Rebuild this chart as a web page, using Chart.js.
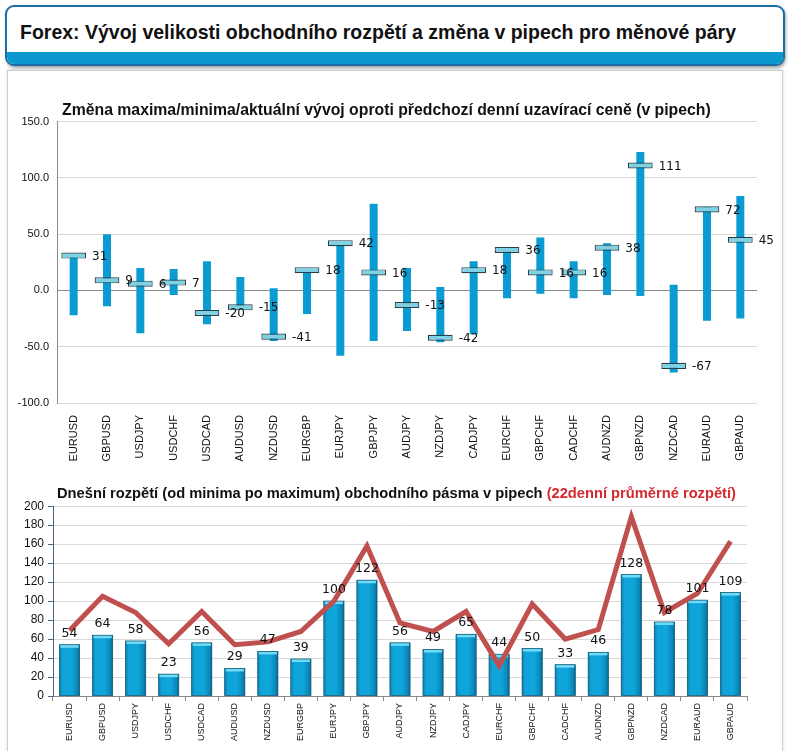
<!DOCTYPE html>
<html>
<head>
<meta charset="utf-8">
<script src="https://cdn.jsdelivr.net/npm/chart.js@4.4.1/dist/chart.umd.min.js"></script>
<style>
  html, body { margin:0; padding:0; background:#fff; }
  #page { position:relative; width:791px; height:751px; overflow:hidden; background:#fff; font-family:"Liberation Sans", Arial, sans-serif; }
  #header { position:absolute; left:5px; top:5px; width:776px; height:57px; border:2px solid #1c6ea4; border-radius:9px; overflow:hidden; background:#fff; box-shadow:1px 2px 3px rgba(0,0,0,0.35); }
  #header .band { position:absolute; left:0; right:0; bottom:0; height:12px; background:#0a98cf; }
  #header .txt { position:absolute; left:13px; top:13px; font-family:"Liberation Sans", Arial, sans-serif; font-weight:bold; font-size:21px; color:#111; white-space:nowrap; transform-origin:0 0; }
  #panel { position:absolute; left:7px; top:70px; width:774px; height:700px; border:1px solid #cfcfcf; box-shadow:0 -1px 3px rgba(0,0,0,0.12); background:#fff; }
  .ctitle { position:absolute; font-family:"Liberation Sans", Arial, sans-serif; font-weight:bold; color:#111; white-space:nowrap; }
  .ctitle .red { color:#d42a2e; }
  canvas { position:absolute; }
  #wrap1 { position:absolute; left:0; top:107px; width:791px; height:363px; }
  #wrap2 { position:absolute; left:0; top:495px; width:791px; height:256px; }
</style>
</head>
<body>
<div id="page">
  <div id="header"><div class="txt" id="htxt">Forex: Vývoj velikosti obchodního rozpětí a změna v pipech pro měnové páry</div><div class="band"></div></div>
  <div id="panel"></div>
  <div id="wrap1"><canvas id="c1"></canvas></div>
  <div id="wrap2"><canvas id="c2"></canvas></div>
  <div class="ctitle" style="left:62px; top:101px; font-size:15.8px;">Změna maxima/minima/aktuální vývoj oproti předchozí denní uzavírací ceně (v pipech)</div>
  <div class="ctitle" style="left:57px; top:485px; font-size:14.7px;">Dnešní rozpětí (od minima po maximum) obchodního pásma v pipech <span class="red">(22denní průměrné rozpětí)</span></div>
</div>
<script>
const pairs = ["EURUSD","GBPUSD","USDJPY","USDCHF","USDCAD","AUDUSD","NZDUSD","EURGBP","EURJPY","GBPJPY","AUDJPY","NZDJPY","CADJPY","EURCHF","GBPCHF","CADCHF","AUDNZD","GBPNZD","NZDCAD","EURAUD","GBPAUD"];
const dayHigh = [32, 50, 20, 19, 26, 12, 2, 18, 42, 77, 20, 3, 26, 37, 47, 26, 42, 123, 5, 74, 84];
const dayLow  = [-22, -14, -38, -4, -30, -17, -45, -21, -58, -45, -36, -46, -39, -7, -3, -7, -4, -5, -73, -27, -25];
const current = [31, 9, 6, 7, -20, -15, -41, 18, 42, 16, -13, -42, 18, 36, 16, 16, 38, 111, -67, 72, 45];
const todayRange = [54, 64, 58, 23, 56, 29, 47, 39, 100, 122, 56, 49, 65, 44, 50, 33, 46, 128, 78, 101, 109];
const avgRange22 = [69, 105, 88, 55, 89, 54, 57, 68, 100, 158, 77, 68, 89, 32, 97, 60, 70, 189, 88, 108, 163];
const topTicks = [-100, -50, 0, 50, 100, 150];
const bottomTicks = [0, 20, 40, 60, 80, 100, 120, 140, 160, 180, 200];

// fit header title to the reference width
(function () {
  const el = document.getElementById('htxt');
  const w = el.getBoundingClientRect().width;
  el.style.transform = 'scaleX(' + (716 / w) + ')';
})();

Chart.defaults.animation = false;
Chart.defaults.font.family = '"Liberation Sans", Arial, sans-serif';
Chart.defaults.color = '#111';

function sizeCanvas(id, w, h) {
  const c = document.getElementById(id);
  c.style.width = w + 'px'; c.style.height = h + 'px';
  return c;
}

// ---------- Top chart ----------
const rangeData = pairs.map((p, i) => [dayLow[i], dayHigh[i]]);
const markerData = current.map(v => [v - 2.7, v + 2.7]);

const topLabels = {
  id: 'topLabels',
  afterDatasetsDraw(chart) {
    const ctx = chart.ctx;
    const meta = chart.getDatasetMeta(1);
    ctx.save();
    ctx.font = '12px "DejaVu Sans", Verdana, sans-serif';
    ctx.fillStyle = '#111';
    ctx.textAlign = 'left';
    ctx.textBaseline = 'middle';
    meta.data.forEach((bar, i) => {
      const x = bar.x + bar.width / 2 + 6;
      const y = chart.scales.y.getPixelForValue(current[i]) + 1;
      ctx.fillText(String(current[i]), x, y);
    });
    ctx.restore();
  }
};

new Chart(sizeCanvas('c1', 791, 363), {
  type: 'bar',
  data: {
    labels: pairs,
    datasets: [
      { label: 'Rozpětí', data: rangeData, backgroundColor: '#0b9bd3', borderWidth: 0,
        barPercentage: 0.24, categoryPercentage: 1.0, grouped: false, order: 2 },
      { label: 'Aktuální', data: markerData, backgroundColor: '#7fd2e3', borderColor: '#2a4049', borderWidth: 1.2,
        borderSkipped: false, barPercentage: 0.74, categoryPercentage: 1.0, grouped: false, order: 1 }
    ]
  },
  options: {
    responsive: false,
    maintainAspectRatio: false,
    layout: { padding: { left: 0, right: 34, top: 0, bottom: 0 } },
    plugins: { legend: { display: false }, tooltip: { enabled: false }, title: { display: false } },
    scales: {
      x: {
        grid: { display: false },
        border: { display: false },
        ticks: { maxRotation: 90, minRotation: 90, autoSkip: false, font: { size: 11 }, color: '#111', padding: 4 },
        afterFit(s) { s.height = 67; }
      },
      y: {
        min: -100, max: 150,
        afterBuildTicks(s) { s.ticks = topTicks.map(v => ({ value: v })); },
        ticks: { callback: v => Number(v).toFixed(1), font: { size: 11 }, color: '#111', padding: 8 },
        grid: { color: ctx => (ctx.tick && ctx.tick.value === 0) ? '#8a8a8a' : '#d9d9d9', drawTicks: false, lineWidth: 1 },
        border: { display: true, color: '#8a8a8a' },
        afterFit(s) { s.width = 57; }
      }
    }
  },
  plugins: [topLabels]
});

// ---------- Bottom chart ----------
const barStyle = {
  id: 'barStyle',
  afterDatasetDraw(chart, args) {
    if (args.index !== 0) return;
    const ctx = chart.ctx;
    ctx.save();
    args.meta.data.forEach(bar => {
      const w = bar.width, l = bar.x - w / 2, t = bar.y, b = bar.base;
      const g = ctx.createLinearGradient(l, 0, l + w, 0);
      g.addColorStop(0, '#0b7fae');
      g.addColorStop(0.15, '#10a3d8');
      g.addColorStop(0.6, '#0fa6dc');
      g.addColorStop(0.9, '#0a86b6');
      g.addColorStop(1, '#06618a');
      ctx.fillStyle = g;
      ctx.fillRect(l, t, w, b - t);
      ctx.fillStyle = '#6fdcf7';
      ctx.fillRect(l + 1, t, w - 2, 3);
      ctx.strokeStyle = '#1f5f7a';
      ctx.lineWidth = 0.8;
      ctx.strokeRect(l, t, w, b - t);
    });
    ctx.restore();
  },
  afterDatasetsDraw(chart) {
    const ctx = chart.ctx;
    const meta = chart.getDatasetMeta(0);
    ctx.save();
    ctx.font = '12.5px "DejaVu Sans", Verdana, sans-serif';
    ctx.fillStyle = '#111';
    ctx.textAlign = 'center';
    ctx.textBaseline = 'bottom';
    meta.data.forEach((bar, i) => {
      ctx.fillText(String(todayRange[i]), bar.x, bar.y - 5);
    });
    ctx.restore();
  }
};

new Chart(sizeCanvas('c2', 791, 256), {
  type: 'bar',
  data: {
    labels: pairs,
    datasets: [
      { type: 'bar', label: 'Dnešní rozpětí', data: todayRange, backgroundColor: '#0fa3d9', borderWidth: 0,
        barPercentage: 0.61, categoryPercentage: 1.0, order: 1 },
      { type: 'line', label: '22denní průměrné rozpětí', data: avgRange22, borderColor: '#c0504d', borderWidth: 5,
        pointRadius: 0, tension: 0, fill: false, order: 0, borderJoinStyle: 'miter' }
    ]
  },
  options: {
    responsive: false,
    maintainAspectRatio: false,
    layout: { padding: { left: 0, right: 44, top: 10, bottom: 0 } },
    plugins: { legend: { display: false }, tooltip: { enabled: false }, title: { display: false } },
    scales: {
      x: {
        offset: true,
        grid: { display: true, drawOnChartArea: false, offset: true, tickLength: 5, color: '#8a8a8a' },
        border: { display: true, color: '#8a8a8a' },
        ticks: { maxRotation: 90, minRotation: 90, autoSkip: false, font: { size: 9 }, color: '#111', padding: 2 },
        afterFit(s) { s.height = 55; }
      },
      y: {
        min: 0, max: 200,
        afterBuildTicks(s) { s.ticks = bottomTicks.map(v => ({ value: v })); },
        ticks: { font: { size: 12 }, color: '#111', padding: 4 },
        grid: { color: '#d9d9d9', tickLength: 5, tickColor: '#4a6584' },
        border: { display: true, color: '#4a6584' },
        afterFit(s) { s.width = 53; }
      }
    }
  },
  plugins: [barStyle]
});
</script>
</body>
</html>
